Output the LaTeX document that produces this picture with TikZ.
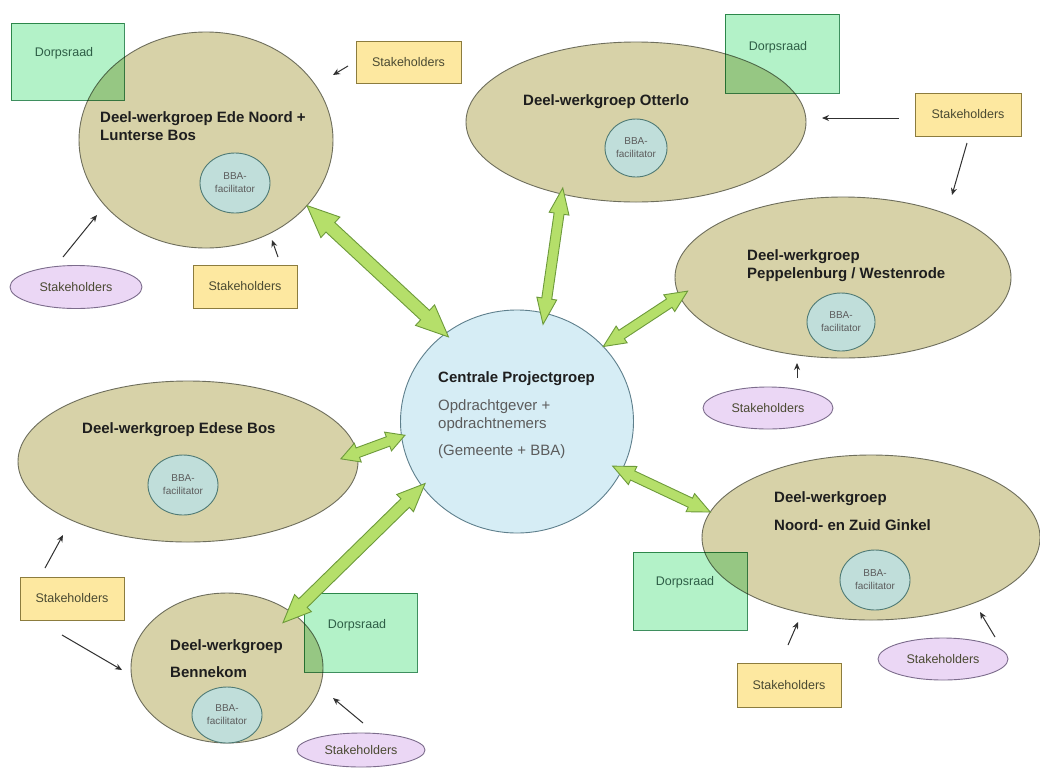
\documentclass[tikz,border=0pt]{standalone}
\usepackage{fontspec}
\setmainfont{Liberation Sans}
\usetikzlibrary{calc,arrows.meta,shapes.geometric}
\definecolor{grpfill}{HTML}{D7D2A8}
\definecolor{grpline}{HTML}{6E6E5C}
\definecolor{bbafill}{HTML}{C0DEDA}
\definecolor{bbaline}{HTML}{4F7A74}
\definecolor{cenfill}{HTML}{D6EDF5}
\definecolor{cenline}{HTML}{5E7F8C}
\definecolor{dorpfill}{HTML}{B3F2C8}
\definecolor{dorpline}{HTML}{3F8F5F}
\definecolor{dorptext}{HTML}{2E5E46}
\definecolor{yelfill}{HTML}{FDE8A0}
\definecolor{yelline}{HTML}{8C7C3E}
\definecolor{purfill}{HTML}{EBD7F5}
\definecolor{purline}{HTML}{7C6C8C}
\definecolor{stktext}{HTML}{4A4A32}
\definecolor{garfill}{HTML}{B5DF6A}
\definecolor{garline}{HTML}{6D9A3B}
\definecolor{ttltext}{HTML}{1E1E1E}
\definecolor{bodytext}{HTML}{5C5C5C}
\definecolor{arrline}{HTML}{303030}
\tikzset{
  grp/.style={ellipse, draw=grpline, fill=grpfill, line width=0.9pt, inner sep=0pt, outer sep=0pt},
  censtyle/.style={ellipse, draw=cenline, fill=cenfill, line width=0.9pt, inner sep=0pt, outer sep=0pt},
  bba/.style={ellipse, draw=bbaline, fill=bbafill, line width=0.9pt, inner sep=0pt, outer sep=0pt,
    text=bodytext, align=center, font=\fontsize{10}{13}\selectfont},
  dorp/.style={rectangle, draw=dorpline, fill=dorpfill, line width=0.9pt, inner sep=0pt, outer sep=0pt},
  dorplbl/.style={text=dorptext, inner sep=0pt, font=\fontsize{12.5}{14}\selectfont},
  yel/.style={rectangle, draw=yelline, fill=yelfill, line width=0.9pt, inner sep=0pt, outer sep=0pt,
    minimum width=104pt, minimum height=43pt, text=stktext, font=\fontsize{12.5}{14}\selectfont},
  pur/.style={ellipse, draw=purline, fill=purfill, line width=0.9pt, inner sep=0pt, outer sep=0pt,
    minimum width=130pt, minimum height=42pt, text=stktext, font=\fontsize{12.5}{14}\selectfont},
  ttl/.style={anchor=base west, inner sep=0pt, text=ttltext, font=\fontsize{15}{18}\selectfont\bfseries},
  body/.style={anchor=base west, inner sep=0pt, text=bodytext, font=\fontsize{15}{18}\selectfont},
  garrowstyle/.style={draw=garline, fill=garfill, line width=0.9pt, line join=miter},
  sarr/.style={draw=arrline, line width=1pt, -{Stealth[length=7pt,width=6pt]}}
}
% green double block arrow: #1 start, #2 end, #3 half shaft, #4 half head, #5 head length
\newcommand\garrow[5]{%
  \coordinate (gA) at (#1);
  \coordinate (gB) at (#2);
  \coordinate (gP) at ($(gA)!#5!(gB)$);
  \coordinate (gQ) at ($(gB)!#5!(gA)$);
  \draw[garrowstyle] (gA) -- ($(gP)!#4!90:(gB)$) -- ($(gP)!#3!90:(gB)$)
    -- ($(gQ)!#3!-90:(gA)$) -- ($(gQ)!#4!-90:(gA)$) -- (gB)
    -- ($(gQ)!#4!90:(gA)$) -- ($(gQ)!#3!90:(gA)$)
    -- ($(gP)!#3!-90:(gB)$) -- ($(gP)!#4!-90:(gB)$) -- cycle;
}
\begin{document}
\begin{tikzpicture}[x=1pt,y=-1pt]
\useasboundingbox (0,0) rectangle (1040,769);
\fill[white] (0,0) rectangle (1040,769);

% working groups
\node[grp, minimum width=254pt, minimum height=216pt] (ede) at (206,140) {};
\node[grp, minimum width=340pt, minimum height=160pt] (ott) at (636,122) {};
\node[grp, minimum width=336pt, minimum height=161pt] (pep) at (843,277.5) {};
\node[grp, minimum width=340pt, minimum height=161pt] (edese) at (188,461.5) {};
\node[grp, minimum width=192pt, minimum height=150pt] (benn) at (227,668) {};
\node[grp, minimum width=338pt, minimum height=165pt] (gink) at (871,537.5) {};
\node[censtyle, minimum width=233pt, minimum height=223pt] (cen) at (517,421.5) {};

% BBA facilitators
\node[bba, minimum width=70pt, minimum height=60pt] (bba1) at (235,183) {BBA-\\facilitator};
\node[bba, minimum width=62pt, minimum height=58pt] (bba2) at (636,148) {BBA-\\facilitator};
\node[bba, minimum width=68pt, minimum height=58pt] (bba3) at (841,322) {BBA-\\facilitator};
\node[bba, minimum width=70pt, minimum height=60pt] (bba4) at (183,485) {BBA-\\facilitator};
\node[bba, minimum width=70pt, minimum height=56pt] (bba5) at (227,715) {BBA-\\facilitator};
\node[bba, minimum width=70pt, minimum height=60pt] (bba6) at (875,580) {BBA-\\facilitator};

% titles
\node[ttl] (edeT1) at (100,122) {Deel-werkgroep Ede Noord +};
\node[ttl] (edeT2) at (100,140) {Lunterse Bos};
\node[ttl] (ottT) at (523,105) {Deel-werkgroep Otterlo};
\node[ttl] (pepT1) at (747,260) {Deel-werkgroep};
\node[ttl] (pepT2) at (747,278) {Peppelenburg / Westenrode};
\node[ttl] (edeseT) at (82,433) {Deel-werkgroep Edese Bos};
\node[ttl] (bennT1) at (170,650) {Deel-werkgroep};
\node[ttl] (bennT2) at (170,677) {Bennekom};
\node[ttl] (ginkT1) at (774,502) {Deel-werkgroep};
\node[ttl] (ginkT2) at (774,530) {Noord- en Zuid Ginkel};
\node[ttl] (cenT) at (438,382) {Centrale Projectgroep};
\node[body] (cenB1) at (438,410) {Opdrachtgever +};
\node[body] (cenB2) at (438,428) {opdrachtnemers};
\node[body] (cenB3) at (438,455) {(Gemeente + BBA)};

% Dorpsraad boxes
\begin{scope}[blend mode=multiply]
\node[dorp, minimum width=113pt, minimum height=77pt] (dorp1) at (67.5,61.5) {};
\node[dorp, minimum width=114pt, minimum height=79pt] (dorp2) at (782,53.5) {};
\node[dorp, minimum width=113pt, minimum height=79pt] (dorp3) at (360.5,632.5) {};
\node[dorp, minimum width=114pt, minimum height=78pt] (dorp4) at (690,591) {};
\end{scope}
\node[dorplbl] (dorp1l) at (64,53) {Dorpsraad};
\node[dorplbl] (dorp2l) at (778,47) {Dorpsraad};
\node[dorplbl] (dorp3l) at (357,625) {Dorpsraad};
\node[dorplbl] (dorp4l) at (685,582) {Dorpsraad};

% stakeholders
\node[yel, minimum width=105pt, minimum height=42pt] (y1) at (408.5,62) {Stakeholders};
\node[yel] (y2) at (245,286.5) {Stakeholders};
\node[yel, minimum width=106pt] (y3) at (968,114.5) {Stakeholders};
\node[yel] (y4) at (72,598.5) {Stakeholders};
\node[yel, minimum height=44pt] (y5) at (789,685) {Stakeholders};
\node[pur, minimum width=132pt, minimum height=43pt] (p1) at (76,287) {Stakeholders};
\node[pur] (p2) at (768,408) {Stakeholders};
\node[pur, minimum width=128pt, minimum height=34pt] (p3) at (361,750) {Stakeholders};
\node[pur] (p4) at (943,659) {Stakeholders};

% green double arrows
\garrow{ede.-33.7}{$(cen.center)!0.96!(cen.129.4)$}{6.5pt}{14pt}{32pt}
\garrow{$(ott.center)!0.93!(ott.222)$}{$(cen.center)!0.9!(cen.75)$}{5pt}{10pt}{26pt}
\garrow{$(pep.center)!0.94!(pep.185.7)$}{cen.41.4}{5pt}{10pt}{22pt}
\garrow{$(edese.center)!0.9!(edese.1.7)$}{$(cen.center)!0.97!(cen.187.6)$}{5pt}{10pt}{18pt}
\garrow{$(benn.center)!0.84!(benn.39.9)$}{$(cen.center)!0.965!(cen.214.7)$}{6pt}{12pt}{28pt}
\garrow{$(cen.center)!0.914!(cen.-25.8)$}{gink.171.3}{5pt}{10pt}{22pt}

% small arrows
\coordinate (a1s) at (348,66);  \coordinate (a1e) at (333,75);
\coordinate (a2s) at (63,257);  \coordinate (a2e) at (97,215);
\coordinate (a3s) at (278,257); \coordinate (a3e) at (272,240);
\coordinate (a4s) at (899,118); \coordinate (a4e) at (822,118);
\coordinate (a5s) at (967,143); \coordinate (a5e) at (952,195);
\coordinate (a6s) at (797,378); \coordinate (a6e) at (797,363);
\coordinate (a7s) at (45,568);  \coordinate (a7e) at (63,535);
\coordinate (a8s) at (62,635);  \coordinate (a8e) at (122,670);
\coordinate (a9s) at (363,723); \coordinate (a9e) at (333,698);
\coordinate (a10s) at (788,645); \coordinate (a10e) at (798,622);
\coordinate (a11s) at (995,637); \coordinate (a11e) at (980,612);
\foreach \i in {1,...,11} { \draw[sarr] (a\i s) -- (a\i e); }
\end{tikzpicture}
\end{document}
